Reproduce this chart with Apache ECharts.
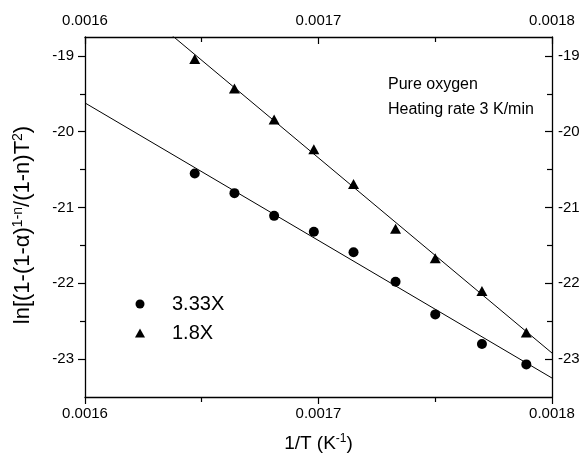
<!DOCTYPE html>
<html>
<head>
<meta charset="utf-8">
<script src="https://cdn.jsdelivr.net/npm/echarts@6/dist/echarts.min.js"></script>
<style>
html,body{margin:0;padding:0;background:#fff;}
#chart{width:585px;height:458px;}
</style>
</head>
<body>
<div id="chart"></div>
<script>
// ---- data ----
const invT = [0.001647, 0.001664, 0.001681, 0.001698, 0.001715, 0.001733, 0.00175, 0.00177, 0.001789];
const series333X = [-20.55, -20.81, -21.11, -21.32, -21.59, -21.98, -22.41, -22.80, -23.07];
const series18X  = [-19.04, -19.43, -19.84, -20.23, -20.69, -21.28, -21.67, -22.10, -22.65];
const fit333X = [[0.0016, -19.62], [0.0018, -23.25]];
const fit18X  = [[0.0016, -17.77], [0.0018, -22.92]];
const yMajorTicks = [-23, -22, -21, -20, -19];
const yMinorTicks = [-22.5, -21.5, -20.5, -19.5];
const seriesNames = ['3.33X', '1.8X'];
const annotation = ['Pure oxygen', 'Heating rate 3 K/min'];

const FONT = "'Liberation Sans', Arial, sans-serif";
const pairs = (ys) => invT.map((x, i) => [x, ys[i]]);

const chart = echarts.init(document.getElementById('chart'), null, {renderer: 'canvas'});

const xCommon = {
  type: 'value', min: 0.0016, max: 0.0018, interval: 0.0001,
  splitLine: {show: false},
  axisLine: {show: true, onZero: false, lineStyle: {color: '#000', width: 1.3}},
  minorTick: {show: true, splitNumber: 2, length: 5, lineStyle: {color: '#000', width: 1.2}},
  axisLabel: {color: '#000', fontSize: 15, fontFamily: FONT, margin: 9,
    formatter: v => v.toFixed(4)}
};
const yCommon = {
  type: 'value', min: -23.5, max: -18.75,
  splitLine: {show: false}
};

chart.setOption({
  animation: false,
  backgroundColor: '#fff',
  grid: {left: 85, right: 33, top: 37, bottom: 60, containLabel: false},
  xAxis: [
    Object.assign({}, xCommon, {
      position: 'bottom',
      axisTick: {show: true, inside: false, length: 7, lineStyle: {color: '#000', width: 1.2}},
      name: '1/T (K{sup|-1})',
      nameLocation: 'middle', nameGap: 36,
      nameTextStyle: {color: '#000', fontSize: 19, fontFamily: FONT,
        rich: {sup: {fontSize: 12, fontFamily: FONT, color: '#000', verticalAlign: 'top', padding: [0, 0, 9, 0]}}}
    }),
    Object.assign({}, xCommon, {
      position: 'top',
      axisTick: {show: true, inside: true, length: 7, lineStyle: {color: '#000', width: 1.2}},
      minorTick: {show: true, splitNumber: 2, length: 5, lineStyle: {color: '#000', width: 1.2}}
    })
  ],
  yAxis: [
    Object.assign({}, yCommon, {
      position: 'left',
      axisLine: {show: true, onZero: false, lineStyle: {color: '#000', width: 1.3}},
      axisTick: {show: true, inside: false, length: 7, customValues: yMajorTicks, lineStyle: {color: '#000', width: 1.2}},
      axisLabel: {color: '#000', fontSize: 15, fontFamily: FONT, margin: 11, customValues: yMajorTicks},
      name: 'ln[(1-(1-α){sup|1-n}/(1-n)T{sup|2})',
      nameLocation: 'middle', nameGap: 50, nameRotate: 90,
      nameTextStyle: {color: '#000', fontSize: 22, fontFamily: FONT, padding: [0, 16, 0, 0],
        rich: {sup: {fontSize: 14, fontFamily: FONT, color: '#000', padding: [0, 0, 10, 0]}}}
    }),
    Object.assign({}, yCommon, {
      position: 'left',
      axisLine: {show: false},
      axisTick: {show: true, inside: false, length: 5, customValues: yMinorTicks, lineStyle: {color: '#000', width: 1.2}},
      axisLabel: {show: false}
    }),
    Object.assign({}, yCommon, {
      position: 'right',
      axisLine: {show: true, onZero: false, lineStyle: {color: '#000', width: 1.3}},
      axisTick: {show: true, inside: true, length: 7, customValues: yMajorTicks, lineStyle: {color: '#000', width: 1.2}},
      axisLabel: {color: '#000', fontSize: 15, fontFamily: FONT, margin: 6, customValues: yMajorTicks}
    }),
    Object.assign({}, yCommon, {
      position: 'right',
      axisLine: {show: false},
      axisTick: {show: true, inside: true, length: 5, customValues: yMinorTicks, lineStyle: {color: '#000', width: 1.2}},
      axisLabel: {show: false}
    })
  ],
  legend: {
    data: [{name: seriesNames[0], icon: 'circle'}, {name: seriesNames[1], icon: 'triangle'}],
    orient: 'vertical',
    left: 130, top: 289,
    itemWidth: 10, itemHeight: 9, itemGap: 9,
    textStyle: {color: '#000', fontSize: 20, fontFamily: FONT, padding: [0, 0, 0, 22]},
    selectedMode: false
  },
  graphic: [
    {type: 'text', left: 388, top: 72,
      style: {text: annotation.join('\n'), fill: '#000', font: '16px ' + FONT, lineHeight: 25}}
  ],
  series: [
    {name: seriesNames[0], type: 'scatter', symbol: 'circle', symbolSize: 10,
      itemStyle: {color: '#000', opacity: 1}, data: pairs(series333X), z: 5},
    {name: seriesNames[1], type: 'scatter', symbol: 'triangle', symbolSize: [11, 10],
      itemStyle: {color: '#000', opacity: 1}, data: pairs(series18X), z: 5},
    {name: 'fit1', type: 'line', data: fit333X, showSymbol: false, symbol: 'none',
      lineStyle: {color: '#000', width: 1}, clip: true, silent: true},
    {name: 'fit2', type: 'line', data: fit18X, showSymbol: false, symbol: 'none',
      lineStyle: {color: '#000', width: 1}, clip: true, silent: true}
  ]
});
</script>
</body>
</html>
